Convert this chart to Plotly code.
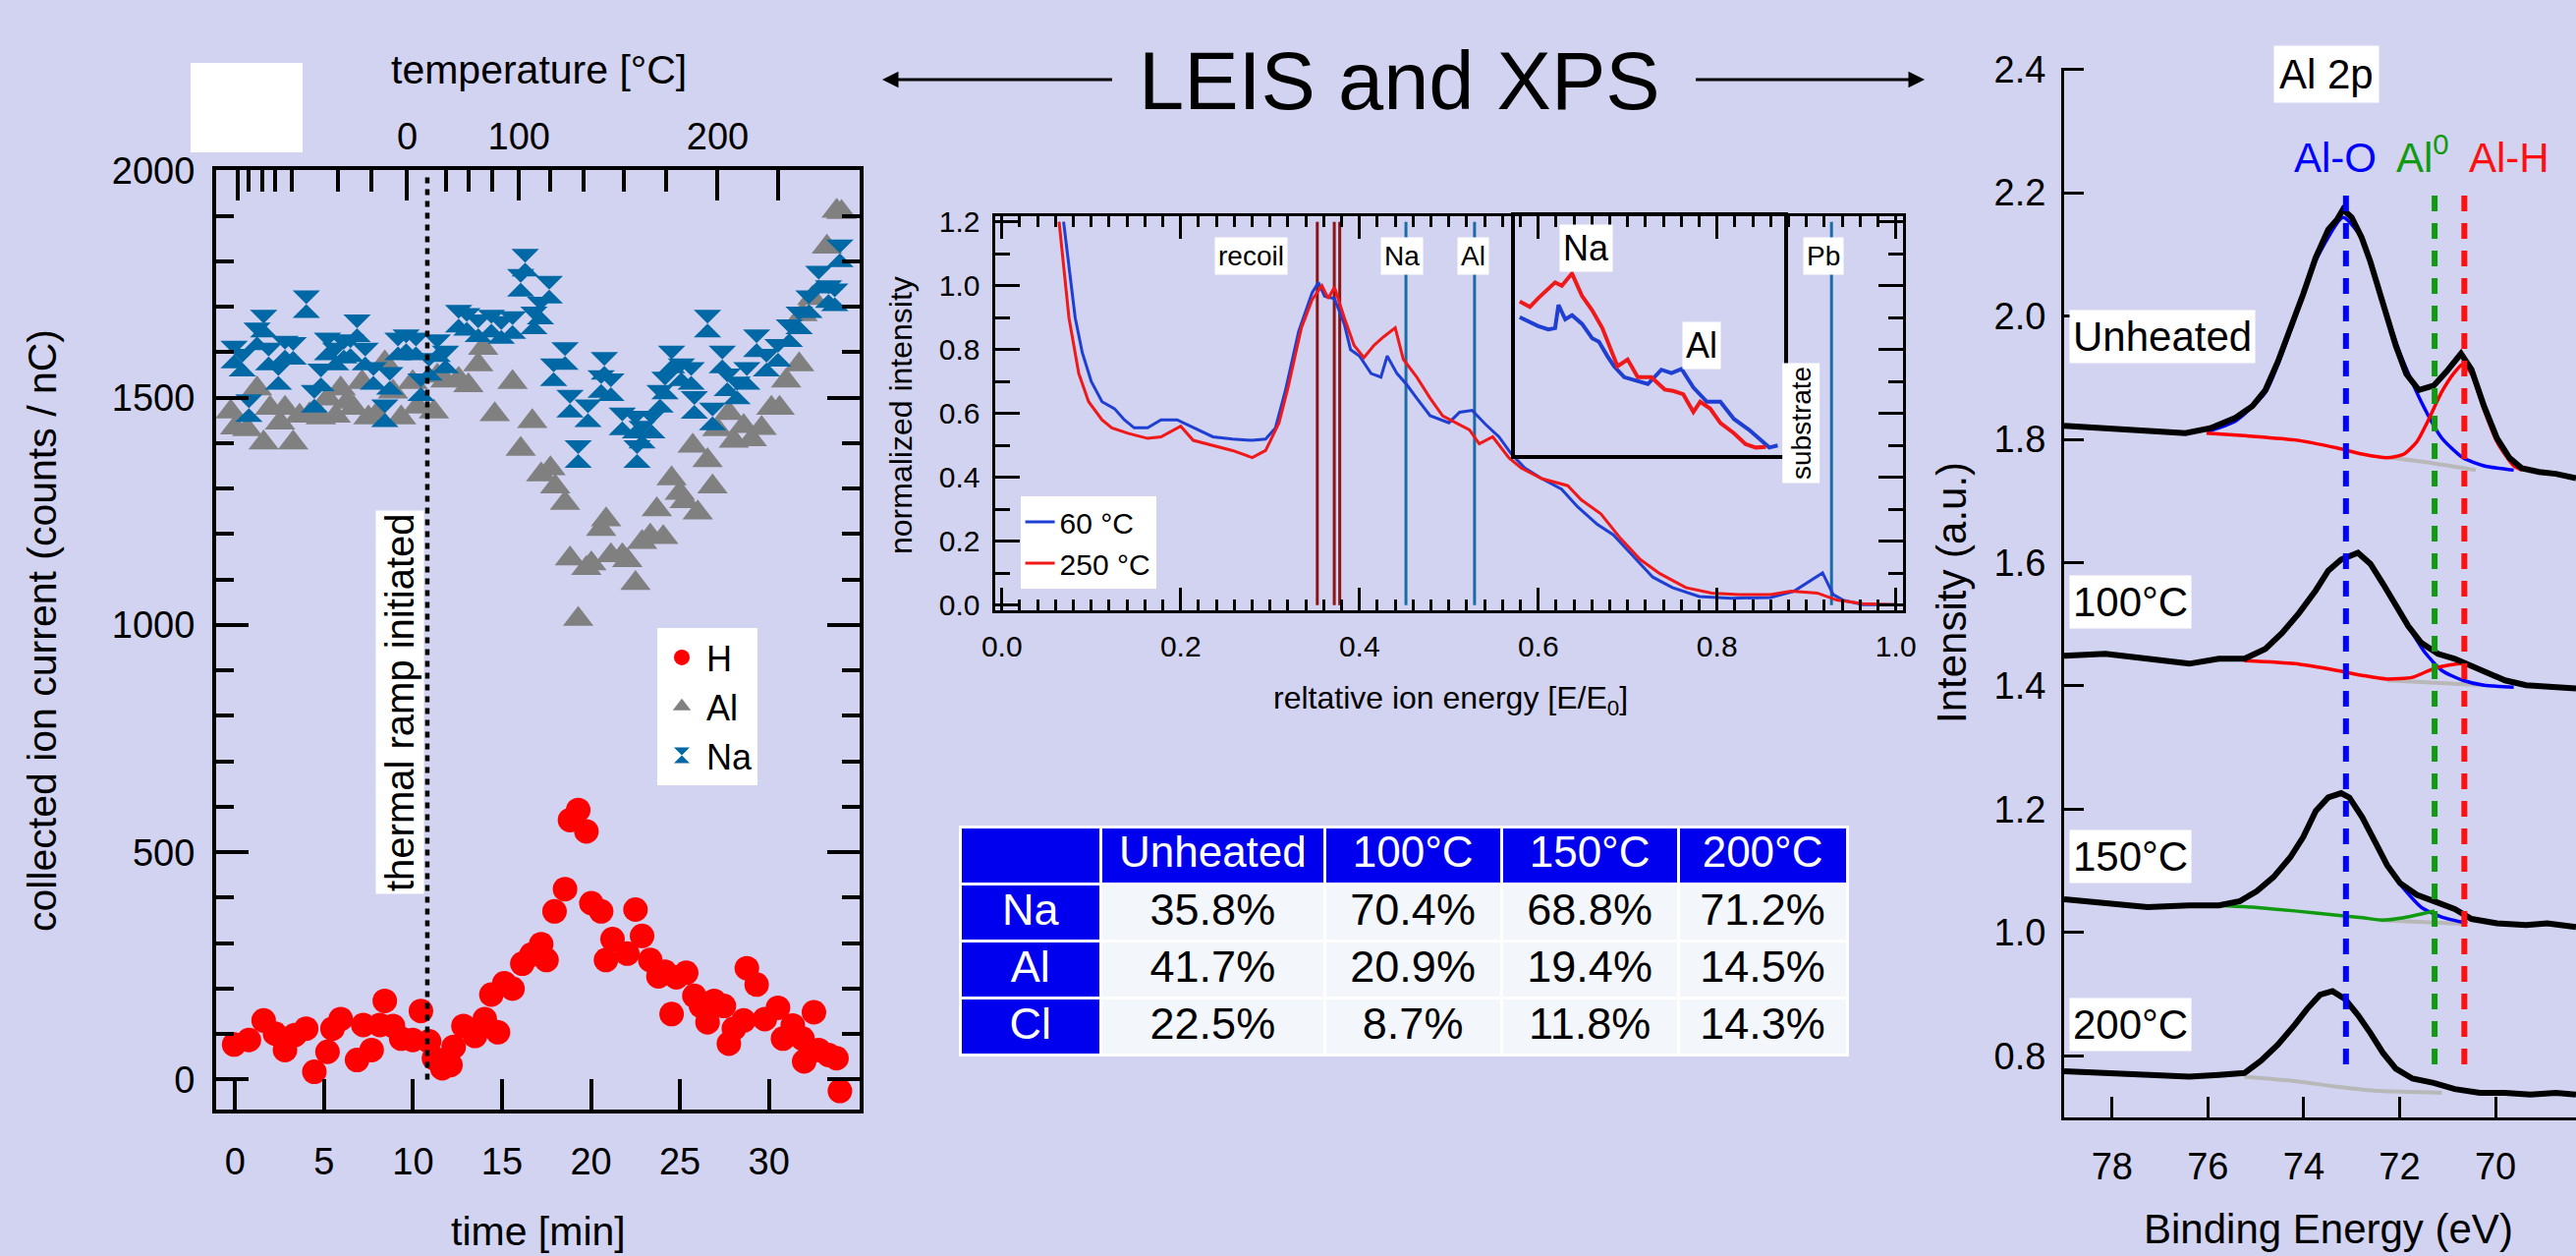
import plotly.graph_objects as go

W, H = 2622, 1278
BG = "#d2d3f0"
FONT = "Liberation Sans, Arial, sans-serif"
TABLE_BLUE = "#0000ee"


def px_x(x):
    return x / W


def px_y(y):
    return 1 - y / H


# ---------------- collected ion current vs time ----------------
TIME_H = [-0.06, 0.77, 1.6, 2.24, 2.8, 3.35, 3.99, 4.45, 5.19, 5.47, 5.93, 6.85, 7.2, 7.67, 8.13,
          8.41, 8.87, 9.33, 9.98, 10.44, 10.9, 11.17, 11.64, 12.1, 12.28, 12.83, 13.48, 14.03, 14.4,
          14.77, 15.13, 15.59, 16.14, 16.65, 17.2, 17.5, 17.95, 18.54, 18.82, 19.28, 19.74, 20.02,
          20.57, 20.84, 21.21, 22.04, 22.5, 22.87, 23.33, 23.79, 24.16, 24.53, 24.8, 25.35, 25.81,
          26.18, 26.55, 26.92, 27.47, 27.75, 28.03, 28.58, 28.76, 29.31, 29.77, 30.51, 30.79, 31.34,
          31.89, 31.98, 32.53, 32.8, 33.35, 33.8, 33.99]
H_CURRENT = [77, 87, 130, 101, 65, 98, 112, 17, 61, 112, 133, 43, 120, 65, 120, 173, 118, 90, 87,
             151, 84, 47, 25, 32, 72, 118, 96, 133, 187, 104, 212, 200, 255, 275, 298, 263, 370, 419,
             571, 593, 546, 388, 370, 263, 309, 277, 374, 316, 263, 227, 237, 144, 225, 235, 184, 162,
             126, 173, 162, 79, 112, 130, 245, 209, 133, 158, 90, 119, 90, 40, 148, 65, 54, 47, -25]

TIME_AL = [-0.25, 0.0, 0.68, 1.23, 1.6, 1.96, 2.52, 2.8, 3.26, 3.62, 4.18, 4.82, 5.19, 5.65, 5.93,
           6.3, 6.66, 7.13, 7.49, 7.95, 8.41, 8.87, 9.33, 9.98, 10.25, 11.17, 11.36, 11.82, 12.56,
           13.11, 13.66, 13.94, 14.59, 15.59, 16.05, 16.7, 17.2, 17.72, 17.99, 18.54, 18.82, 19.28,
           19.74, 20.02, 20.57, 20.85, 21.12, 21.76, 22.04, 22.5, 22.87, 23.33, 23.7, 24.06, 24.53,
           24.99, 25.27, 25.72, 26.0, 26.55, 26.83, 27.1, 27.75, 28.03, 28.58, 29.04, 29.59, 30.14,
           30.6, 30.97, 31.7, 31.89, 32.44, 33.26, 33.81, 34.08]
AL_CURRENT = [1469, 1434, 1430, 1520, 1401, 1477, 1445, 1477, 1401, 1460, 1463, 1456, 1498, 1460,
              1520, 1491, 1477, 1534, 1456, 1463, 1577, 1513, 1456, 1534, 1480, 1469, 1548, 1537,
              1541, 1527, 1573, 1609, 1463, 1534, 1387, 1448, 1331, 1344, 1304, 1268, 1146, 1013,
              1125, 1135, 1211, 1232, 1153, 1153, 1142, 1092, 1182, 1196, 1254, 1193, 1322, 1290,
              1272, 1394, 1247, 1362, 1304, 1430, 1466, 1405, 1437, 1408, 1433, 1477, 1477, 1537,
              1573, 1683, 1719, 1832, 1911, 1908]

TIME_NA = [-0.06, 0.4, 0.77, 1.23, 1.6, 1.88, 2.43, 2.8, 3.26, 4.0, 4.45, 4.82, 5.19, 5.65, 6.11,
           6.48, 6.85, 7.31, 7.77, 8.41, 8.69, 9.15, 9.61, 10.16, 10.44, 10.9, 11.36, 11.82, 12.56,
           13.02, 13.66, 14.4, 14.96, 15.59, 16.05, 16.3, 16.79, 17.16, 17.65, 17.9, 18.54, 18.82,
           19.28, 19.83, 20.57, 20.75, 21.12, 21.76, 22.5, 22.59, 22.87, 23.42, 23.88, 24.16, 24.53,
           25.08, 25.63, 25.81, 26.55, 26.83, 27.38, 27.66, 28.21, 28.76, 29.31, 29.86, 30.51, 31.15,
           31.7, 32.25, 32.8, 33.35, 33.7, 33.99]
NA_CURRENT = [1595, 1577, 1477, 1635, 1663, 1591, 1548, 1606, 1603, 1706, 1498, 1545, 1613, 1591,
              1606, 1609, 1653, 1591, 1548, 1466, 1537, 1613, 1620, 1613, 1523, 1568, 1609, 1584,
              1674, 1667, 1653, 1663, 1649, 1660, 1753, 1797, 1670, 1692, 1738, 1556, 1592, 1487,
              1376, 1466, 1530, 1570, 1523, 1448, 1441, 1376, 1419, 1441, 1498, 1527, 1584, 1556,
              1548, 1484, 1663, 1459, 1584, 1534, 1516, 1548, 1620, 1577, 1599, 1642, 1670, 1706,
              1760, 1728, 1721, 1818]

RAMP_START = 10.8          # minutes
TIME_TICKS = [0, 5, 10, 15, 20, 25, 30]
CURRENT_TICKS = [0, 500, 1000, 1500, 2000]

# temperature scale on the top axis (positions in minutes)
TEMP_MAJOR_POS = [0.16, 9.67, 15.95, 27.12, 30.54]
TEMP_MAJOR_TEXT = ["", "0", "100", "200", ""]
TEMP_MINOR_POS = [0.73, 1.52, 2.22, 3.2, 5.8, 7.64, 11.83, 13.1, 14.46, 17.7, 19.6, 21.82, 24.2]

# ---------------- LEIS spectra ----------------
E_60 = [0.069, 0.082, 0.090, 0.100, 0.112, 0.126, 0.137, 0.148, 0.163, 0.178, 0.196, 0.214, 0.236,
        0.258, 0.280, 0.295, 0.306, 0.317, 0.332, 0.347, 0.354, 0.361, 0.372, 0.383, 0.390, 0.400,
        0.413, 0.424, 0.431, 0.442, 0.453, 0.464, 0.479, 0.500, 0.512, 0.526, 0.541, 0.556, 0.570,
        0.585, 0.604, 0.626, 0.644, 0.666, 0.684, 0.706, 0.728, 0.750, 0.780, 0.816, 0.860, 0.886,
        0.905, 0.918, 0.930, 0.941, 0.963, 1.000]
I_60 = [1.20, 0.90, 0.79, 0.70, 0.637, 0.615, 0.58, 0.555, 0.555, 0.58, 0.58, 0.555, 0.527, 0.52,
        0.516, 0.52, 0.555, 0.67, 0.857, 0.978, 1.01, 0.967, 0.96, 0.88, 0.80, 0.78, 0.725, 0.714,
        0.78, 0.725, 0.69, 0.648, 0.593, 0.571, 0.604, 0.61, 0.566, 0.527, 0.473, 0.429, 0.396,
        0.363, 0.308, 0.253, 0.22, 0.154, 0.088, 0.055, 0.027, 0.022, 0.024, 0.044, 0.077, 0.101,
        0.033, 0.016, 0.002, 0.002]
E_250 = [0.064, 0.075, 0.086, 0.097, 0.112, 0.123, 0.141, 0.163, 0.178, 0.200, 0.214, 0.236, 0.258,
         0.280, 0.295, 0.310, 0.320, 0.335, 0.347, 0.358, 0.365, 0.372, 0.383, 0.394, 0.405, 0.416,
         0.427, 0.440, 0.449, 0.464, 0.479, 0.493, 0.508, 0.523, 0.534, 0.549, 0.567, 0.581, 0.604,
         0.633, 0.648, 0.670, 0.692, 0.714, 0.736, 0.765, 0.794, 0.824, 0.860, 0.883, 0.912, 0.934,
         0.963, 1.000]
I_250 = [1.20, 0.90, 0.725, 0.637, 0.58, 0.555, 0.538, 0.522, 0.527, 0.56, 0.516, 0.50, 0.484,
         0.462, 0.484, 0.571, 0.68, 0.868, 0.956, 1.00, 0.96, 0.995, 0.90, 0.813, 0.775, 0.813, 0.84,
         0.868, 0.77, 0.714, 0.648, 0.593, 0.571, 0.549, 0.505, 0.527, 0.462, 0.429, 0.396, 0.374,
         0.33, 0.286, 0.209, 0.143, 0.099, 0.055, 0.038, 0.033, 0.033, 0.044, 0.038, 0.016, 0.005,
         0.002]

# magnified Na / Al region
INSET_E_60 = [0.403, 0.411, 0.414, 0.420, 0.424, 0.426, 0.430, 0.434, 0.440, 0.446, 0.450, 0.455,
              0.459, 0.465, 0.473, 0.479, 0.487, 0.493, 0.499, 0.506, 0.514, 0.522, 0.530, 0.539,
              0.545, 0.551, 0.556]
INSET_I_60 = [0.752, 0.742, 0.739, 0.734, 0.736, 0.770, 0.749, 0.755, 0.742, 0.721, 0.716, 0.695,
              0.680, 0.664, 0.659, 0.654, 0.675, 0.670, 0.676, 0.649, 0.628, 0.628, 0.603, 0.587,
              0.574, 0.561, 0.564]
INSET_E_250 = [0.403, 0.409, 0.414, 0.420, 0.424, 0.428, 0.434, 0.440, 0.446, 0.452, 0.455, 0.461,
               0.467, 0.473, 0.481, 0.489, 0.494, 0.500, 0.506, 0.510, 0.516, 0.522, 0.530, 0.537,
               0.543, 0.549]
INSET_I_250 = [0.775, 0.767, 0.780, 0.793, 0.803, 0.798, 0.816, 0.783, 0.762, 0.736, 0.718, 0.680,
               0.690, 0.664, 0.664, 0.646, 0.644, 0.639, 0.613, 0.628, 0.618, 0.597, 0.582, 0.566,
               0.561, 0.562]

RECOIL_LINES = [0.3528, 0.3718, 0.3779]
ELEMENT_LINES = [0.452, 0.5287, 0.928]

# ---------------- surface composition ----------------
TABLE_COLUMNS = ["", "Unheated", "100°C", "150°C", "200°C"]
TABLE_ELEMENTS = ["Na", "Al", "Cl"]
NA_PCT = [35.8, 70.4, 68.8, 71.2]
AL_PCT = [41.7, 20.9, 19.4, 14.5]
CL_PCT = [22.5, 8.7, 11.8, 14.3]

# ---------------- XPS Al 2p ----------------
BE_UNHEATED = [79.0, 78.14, 77.26, 76.47, 75.95, 75.42, 75.07, 74.80, 74.54, 74.28, 74.01, 73.75,
               73.49, 73.31, 73.18, 73.0, 72.79, 72.61, 72.43, 72.26, 72.08, 71.86, 71.60, 71.29,
               71.03, 70.72, 70.50, 70.24, 69.97, 69.71, 69.45, 69.09, 68.74, 68.32]
INT_UNHEATED = [1.822, 1.818, 1.812, 1.810, 1.818, 1.835, 1.854, 1.880, 1.926, 1.978, 2.036, 2.095,
                2.140, 2.156, 2.173, 2.160, 2.127, 2.088, 2.043, 1.997, 1.952, 1.906, 1.880, 1.887,
                1.909, 1.939, 1.913, 1.854, 1.802, 1.770, 1.753, 1.747, 1.744, 1.737]
BE_UNHEATED_ALO = [76.03, 75.42, 74.80, 74.28, 73.75, 73.18, 72.78, 72.43, 71.99, 71.55, 71.12,
                   70.68, 70.24, 69.62]
INT_UNHEATED_ALO = [1.812, 1.830, 1.876, 1.975, 2.090, 2.160, 2.125, 2.040, 1.939, 1.861, 1.802,
                    1.770, 1.757, 1.750]
BE_UNHEATED_ALH = [76.03, 75.07, 74.19, 73.31, 72.78, 72.26, 71.91, 71.64, 71.42, 71.12, 70.85,
                   70.68, 70.50, 70.24, 69.97, 69.62, 69.45]
INT_UNHEATED_ALH = [1.810, 1.805, 1.799, 1.786, 1.776, 1.770, 1.776, 1.796, 1.828, 1.877, 1.909,
                    1.922, 1.906, 1.848, 1.796, 1.757, 1.750]
BE_UNHEATED_BG = [72.17, 71.29, 70.41]
INT_UNHEATED_BG = [1.770, 1.761, 1.750]

BE_100 = [79.0, 78.14, 77.26, 76.39, 75.77, 75.24, 74.80, 74.45, 74.10, 73.75, 73.49, 73.22, 72.87,
          72.61, 72.35, 72.08, 71.82, 71.55, 71.20, 70.85, 70.50, 70.15, 69.80, 69.36, 68.92, 68.32]
INT_100 = [1.449, 1.452, 1.444, 1.436, 1.444, 1.444, 1.460, 1.486, 1.518, 1.555, 1.587, 1.605, 1.616,
           1.598, 1.566, 1.529, 1.497, 1.470, 1.452, 1.444, 1.433, 1.420, 1.409, 1.401, 1.399, 1.396]
BE_100_ALH = [75.24, 74.19, 73.31, 72.78, 72.26, 71.73, 71.29, 70.94, 70.68, 70.41, 70.15]
INT_100_ALH = [1.441, 1.436, 1.425, 1.417, 1.411, 1.414, 1.428, 1.434, 1.436, 1.430, 1.422]
BE_100_ALO = [71.82, 71.47, 71.12, 70.68, 70.24, 69.62]
INT_100_ALO = [1.497, 1.454, 1.425, 1.409, 1.401, 1.398]
BE_100_BG = [72.26, 70.24]
INT_100_BG = [1.409, 1.401]

BE_150 = [79.0, 78.14, 77.26, 76.39, 75.77, 75.33, 74.98, 74.63, 74.28, 74.01, 73.75, 73.49, 73.22,
          73.05, 72.78, 72.52, 72.26, 71.99, 71.64, 71.29, 70.85, 70.50, 69.97, 69.36, 68.92, 68.32]
INT_150 = [1.054, 1.048, 1.041, 1.044, 1.044, 1.051, 1.067, 1.090, 1.122, 1.155, 1.197, 1.219, 1.226,
           1.219, 1.187, 1.148, 1.109, 1.080, 1.061, 1.051, 1.038, 1.022, 1.015, 1.012, 1.015, 1.009]
BE_150_AL0 = [75.77, 75.07, 74.19, 73.31, 72.78, 72.35, 71.91, 71.55, 71.27]
INT_150_AL0 = [1.044, 1.041, 1.035, 1.028, 1.024, 1.020, 1.024, 1.030, 1.035]
BE_150_ALO = [71.99, 71.55, 71.12, 70.59]
INT_150_ALO = [1.078, 1.041, 1.025, 1.015]
BE_150_BG = [72.43, 70.68]
INT_150_BG = [1.020, 1.014]

BE_200 = [79.0, 78.14, 77.26, 76.39, 75.77, 75.24, 74.89, 74.54, 74.19, 73.93, 73.66, 73.40, 73.14,
          72.87, 72.61, 72.35, 72.08, 71.73, 71.29, 70.85, 70.33, 69.80, 69.27, 68.74, 68.32]
INT_200 = [0.775, 0.772, 0.769, 0.766, 0.769, 0.772, 0.792, 0.818, 0.850, 0.876, 0.899, 0.905, 0.892,
           0.866, 0.837, 0.805, 0.779, 0.763, 0.756, 0.746, 0.740, 0.740, 0.737, 0.740, 0.737]
BE_200_BG = [75.24, 74.19, 73.31, 72.43, 71.12]
INT_200_BG = [0.766, 0.759, 0.750, 0.743, 0.740]

PEAK_AL_O = 73.12
PEAK_AL_0 = 71.27
PEAK_AL_H = 70.65

fig = go.Figure()

# ---- left panel: ion currents ----
fig.add_trace(go.Scatter(x=TIME_H, y=H_CURRENT, mode="markers", name="H",
                         marker=dict(symbol="circle", size=25, color="#ff0000", line=dict(width=0)),
                         xaxis="x", yaxis="y", legend="legend"))
fig.add_trace(go.Scatter(x=TIME_AL, y=AL_CURRENT, mode="markers", name="Al",
                         marker=dict(symbol="triangle-up", size=27, color="#808080", line=dict(width=0)),
                         xaxis="x", yaxis="y", legend="legend"))
fig.add_trace(go.Scatter(x=TIME_NA, y=NA_CURRENT, mode="markers", name="Na",
                         marker=dict(symbol="hourglass", size=28, color="#0068a4", line=dict(width=0)),
                         xaxis="x", yaxis="y", legend="legend"))
# top temperature axis carrier
fig.add_trace(go.Scatter(x=[None], y=[None], xaxis="x2", yaxis="y", showlegend=False,
                         hoverinfo="skip"))

# ---- middle panel: LEIS ----
fig.add_trace(go.Scatter(x=E_60, y=I_60, mode="lines", name="60 °C",
                         line=dict(color="#1f3fd2", width=3), xaxis="x3", yaxis="y3",
                         legend="legend2"))
fig.add_trace(go.Scatter(x=E_250, y=I_250, mode="lines", name="250 °C",
                         line=dict(color="#f01818", width=3), xaxis="x3", yaxis="y3",
                         legend="legend2"))
fig.add_trace(go.Scatter(x=INSET_E_60, y=INSET_I_60, mode="lines", showlegend=False,
                         line=dict(color="#1f3fd2", width=4), xaxis="x4", yaxis="y4"))
fig.add_trace(go.Scatter(x=INSET_E_250, y=INSET_I_250, mode="lines", showlegend=False,
                         line=dict(color="#f01818", width=4), xaxis="x4", yaxis="y4"))

# ---- right panel: XPS ----
GRAY, FIT_BLUE, FIT_RED, FIT_GREEN = "#b8b8b8", "#0000ff", "#ff0000", "#109a10"


def xps(x, y, color, width, smooth=True):
    line = dict(color=color, width=width)
    if smooth:
        line.update(shape="spline", smoothing=0.6)
    fig.add_trace(go.Scatter(x=x, y=y, mode="lines", showlegend=False, line=line,
                             xaxis="x5", yaxis="y5", hoverinfo="skip"))


xps(BE_UNHEATED_BG, INT_UNHEATED_BG, GRAY, 4)
xps(BE_100_BG, INT_100_BG, GRAY, 4)
xps(BE_150_BG, INT_150_BG, GRAY, 4)
xps(BE_200_BG, INT_200_BG, GRAY, 4)
xps(BE_UNHEATED_ALO, INT_UNHEATED_ALO, FIT_BLUE, 3.5)
xps(BE_100_ALO, INT_100_ALO, FIT_BLUE, 3.5)
xps(BE_150_ALO, INT_150_ALO, FIT_BLUE, 3.5)
xps(BE_UNHEATED_ALH, INT_UNHEATED_ALH, FIT_RED, 3.5)
xps(BE_100_ALH, INT_100_ALH, FIT_RED, 3.5)
xps(BE_150_AL0, INT_150_AL0, FIT_GREEN, 3.5)
xps(BE_UNHEATED, INT_UNHEATED, "black", 6, smooth=False)
xps(BE_100, INT_100, "black", 6, smooth=False)
xps(BE_150, INT_150, "black", 6, smooth=False)
xps(BE_200, INT_200, "black", 6, smooth=False)

# ---- composition table ----
cell_cols = [TABLE_ELEMENTS]
for i in range(4):
    cell_cols.append([f"{row[i]:.1f}%" for row in (NA_PCT, AL_PCT, CL_PCT)])
fig.add_trace(go.Table(
    domain=dict(x=[px_x(977), px_x(1881)], y=[px_y(1080), px_y(841)]),
    columnwidth=[142, 225, 178, 178, 170],
    header=dict(values=TABLE_COLUMNS, fill_color=TABLE_BLUE, align="center", height=58,
                line=dict(color="white", width=3),
                font=dict(color="white", size=44, family=FONT)),
    cells=dict(values=cell_cols, align="center", height=58,
               fill_color=[[TABLE_BLUE] * 3] + [["#f3f6fa"] * 3] * 4,
               line=dict(color="white", width=3),
               font=dict(color=[["white"] * 3] + [["black"] * 3] * 4, size=45, family=FONT)),
))

axis_common = dict(showgrid=False, zeroline=False, linecolor="black", tickcolor="black",
                   automargin=False)

shapes = []
# thermal ramp marker
shapes.append(dict(type="line", xref="x", yref="y", x0=RAMP_START, x1=RAMP_START, y0=0, y1=1985,
                   line=dict(color="black", width=4.5, dash="6px,6px")))
for e in RECOIL_LINES:
    shapes.append(dict(type="line", xref="x3", yref="y3", x0=e, x1=e, y0=0, y1=1.2, layer="below",
                       line=dict(color="#8c1414", width=3)))
for e in ELEMENT_LINES:
    shapes.append(dict(type="line", xref="x3", yref="y3", x0=e, x1=e, y0=0, y1=1.2, layer="below",
                       line=dict(color="#1a6ca8", width=3)))
for be, col in ((PEAK_AL_O, "#0000ff"), (PEAK_AL_0, "#109a10"), (PEAK_AL_H, "#ff1010")):
    shapes.append(dict(type="line", xref="x5", yref="y5", x0=be, x1=be, y0=0.786, y1=2.208,
                       line=dict(color=col, width=6, dash="16px,12px")))
# blank patch at top left
shapes.append(dict(type="rect", xref="paper", yref="paper", x0=px_x(194), x1=px_x(308),
                   y0=px_y(155), y1=px_y(64), fillcolor="white", line=dict(width=0)))

ann = []


def text(x, y, s, size, xref="paper", yref="paper", color="black", angle=0, bg=None,
         xanchor="center", yanchor="middle", pad=1):
    d = dict(x=x, y=y, xref=xref, yref=yref, text=s, showarrow=False, textangle=angle,
             xanchor=xanchor, yanchor=yanchor, font=dict(size=size, color=color, family=FONT),
             borderpad=pad)
    if bg:
        d["bgcolor"] = bg
    ann.append(d)


text(px_x(1424), px_y(83), "LEIS and XPS", 83)
ann.append(dict(x=px_x(898), y=px_y(81), xref="paper", yref="paper", ax=237, ay=0, text=" ",
                showarrow=True, arrowhead=2, arrowsize=1.1, arrowwidth=3, arrowcolor="black"))
ann.append(dict(x=px_x(1959), y=px_y(81), xref="paper", yref="paper", ax=-236, ay=0, text=" ",
                showarrow=True, arrowhead=2, arrowsize=1.1, arrowwidth=3, arrowcolor="black"))

# left panel titles
text(px_x(43), px_y(642), "collected ion current (counts / nC)", 41, angle=-90)
text(px_x(548), px_y(1253), "time [min]", 41)
text(px_x(548), px_y(71), "temperature [°C]", 41)
text(px_x(407), px_y(715), "thermal ramp initiated", 40, angle=-90, bg="white", pad=2)

# middle panel titles and labels
text(px_x(917), px_y(423), "normalized intensity", 32, angle=-90)
text(px_x(1476), px_y(712), "reltative ion energy [E/E<sub>0</sub>]", 32)
text(0.2785, 1.094, "recoil", 28, xref="x3", yref="y3", bg="white", pad=3)
text(0.4476, 1.094, "Na", 28, xref="x3", yref="y3", bg="white", pad=3)
text(0.527, 1.094, "Al", 28, xref="x3", yref="y3", bg="white", pad=3)
text(0.919, 1.094, "Pb", 28, xref="x3", yref="y3", bg="white", pad=3)
text(0.8935, 0.571, "substrate", 28, xref="x3", yref="y3", angle=-90, bg="white", pad=3)
text(0.4427, 0.8525, "Na", 36, xref="x4", yref="y4", bg="white", pad=3)
text(0.5109, 0.7113, "Al", 36, xref="x4", yref="y4", bg="white", pad=3)

# right panel titles and labels
text(px_x(1986), px_y(603), "Intensity (a.u.)", 42, angle=-90)
text(px_x(2370), px_y(1250), "Binding Energy (eV)", 42)
text(73.53, 2.393, "Al 2p", 42, xref="x5", yref="y5", bg="white", pad=5)
text(73.35, 2.257, "Al-O", 42, xref="x5", yref="y5", color="#0000ff")
text(71.52, 2.262, "Al<sup>0</sup>", 42, xref="x5", yref="y5", color="#109a10")
text(69.72, 2.257, "Al-H", 42, xref="x5", yref="y5", color="#ff1010")
text(78.9, 1.966, "Unheated", 42, xref="x5", yref="y5", bg="white", xanchor="left", pad=3)
text(78.9, 1.536, "100°C", 42, xref="x5", yref="y5", bg="white", xanchor="left", pad=3)
text(78.9, 1.124, "150°C", 42, xref="x5", yref="y5", bg="white", xanchor="left", pad=3)
text(78.9, 0.850, "200°C", 42, xref="x5", yref="y5", bg="white", xanchor="left", pad=3)

fig.update_layout(
    template="none",
    width=W, height=H, margin=dict(l=0, r=0, t=0, b=0, autoexpand=False),
    paper_bgcolor=BG, plot_bgcolor="rgba(0,0,0,0)",
    font=dict(family=FONT, color="black"),
    shapes=shapes, annotations=ann,
    xaxis=dict(domain=[px_x(220), px_x(875)], range=[-1.07, 35.1], anchor="y",
               showline=True, linewidth=4, mirror=True, ticks="inside", ticklen=31, tickwidth=4,
               tickvals=TIME_TICKS, tickfont=dict(size=38), ticklabelstandoff=16, **axis_common),
    xaxis2=dict(overlaying="x", side="top", anchor="y", range=[-1.07, 35.1],
                tickvals=TEMP_MAJOR_POS, ticktext=TEMP_MAJOR_TEXT, ticks="inside", ticklen=31,
                tickwidth=4, showline=False, tickfont=dict(size=38), ticklabelstandoff=12,
                minor=dict(tickvals=TEMP_MINOR_POS, ticks="inside", ticklen=22, tickwidth=4,
                           tickcolor="black"),
                **axis_common),
    yaxis=dict(domain=[px_y(1129), px_y(173)], range=[-66, 2001], anchor="x",
               showline=True, linewidth=4, mirror="ticks", ticks="inside", ticklen=33, tickwidth=4,
               tickvals=CURRENT_TICKS, tickfont=dict(size=38), ticklabelstandoff=10,
               minor=dict(dtick=100, tick0=0, ticks="inside", ticklen=18, tickwidth=4,
                          tickcolor="black"),
               **axis_common),
    xaxis3=dict(domain=[px_x(1012.5), px_x(1937)], range=[-0.008, 1.008], anchor="y3",
                showline=True, linewidth=3, mirror="ticks", ticks="inside", ticklen=23, tickwidth=3,
                dtick=0.2, tick0=0, tickformat=".1f", tickfont=dict(size=30), ticklabelstandoff=8,
                minor=dict(dtick=0.02, tick0=0, ticks="inside", ticklen=11, tickwidth=3,
                           tickcolor="black"),
                **axis_common),
    yaxis3=dict(domain=[px_y(621), px_y(220)], range=[-0.016, 1.2175], anchor="x3",
                showline=True, linewidth=3, mirror="ticks", ticks="inside", ticklen=25, tickwidth=3,
                dtick=0.2, tick0=0, tickformat=".1f", tickfont=dict(size=30), ticklabelstandoff=6,
                minor=dict(dtick=0.1, tick0=0, ticks="inside", ticklen=15, tickwidth=3,
                           tickcolor="black"),
                **axis_common),
    xaxis4=dict(domain=[px_x(1541.7), px_x(1816.3)], range=[0.40, 0.56], anchor="y4",
                showline=True, linewidth=3.5, mirror=True, ticks="", showticklabels=False,
                **axis_common),
    yaxis4=dict(domain=[px_y(463), px_y(220)], range=[0.55, 0.90], anchor="x4",
                showline=True, linewidth=3.5, mirror=True, ticks="", showticklabels=False,
                **axis_common),
    xaxis5=dict(domain=[px_x(2101), 1.0], range=[79, 68.32], anchor="y5",
                showline=True, linewidth=3, ticks="inside", ticklen=21, tickwidth=3,
                tickvals=[78, 76, 74, 72, 70], tickfont=dict(size=38), ticklabelstandoff=14,
                **axis_common),
    yaxis5=dict(domain=[px_y(1137), px_y(69.4)], range=[0.7, 2.402], anchor="x5",
                showline=True, linewidth=3, ticks="inside", ticklen=20, tickwidth=3,
                tickvals=[0.8, 1.0, 1.2, 1.4, 1.6, 1.8, 2.0, 2.2, 2.4], tickformat=".1f",
                tickfont=dict(size=38), ticklabelstandoff=8, **axis_common),
    legend=dict(x=px_x(669), y=px_y(639), xanchor="left", yanchor="top", bgcolor="white",
                font=dict(size=36), borderwidth=0, itemwidth=40, tracegroupgap=0),
    legend2=dict(x=px_x(1038.6), y=px_y(505), xanchor="left", yanchor="top", bgcolor="white",
                 font=dict(size=30), borderwidth=0, tracegroupgap=0),
    showlegend=True,
)

fig.write_html("out.html")
